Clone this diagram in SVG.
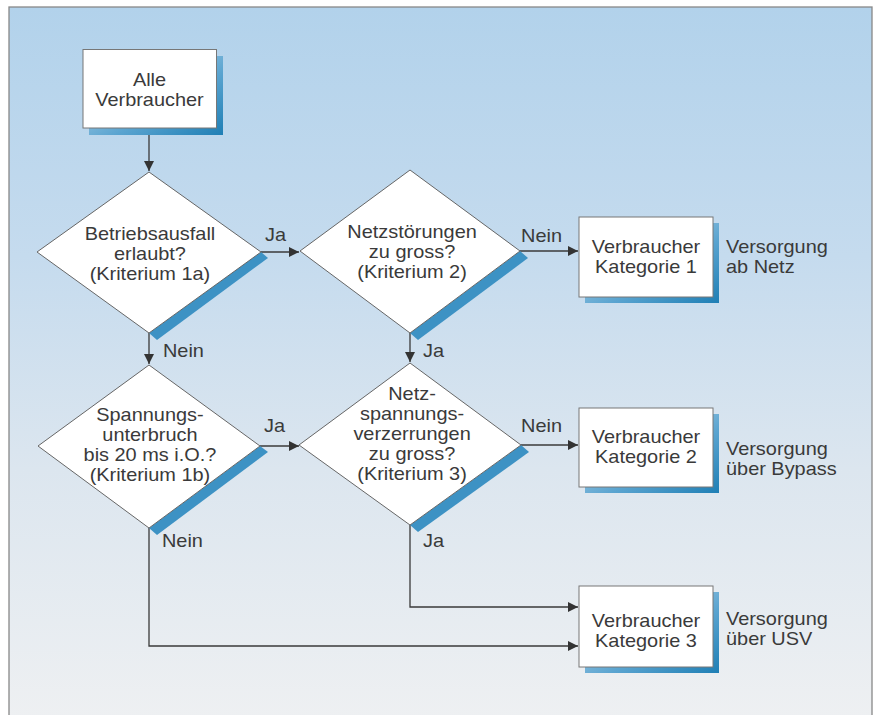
<svg xmlns="http://www.w3.org/2000/svg" width="874" height="715" viewBox="0 0 874 715">
<defs>
<linearGradient id="bg" x1="0" y1="0" x2="0" y2="1">
<stop offset="0" stop-color="#b2d2eb"/>
<stop offset="0.35" stop-color="#c5dbee"/>
<stop offset="0.65" stop-color="#dce6ef"/>
<stop offset="1" stop-color="#eef0f2"/>
</linearGradient>
<linearGradient id="sh" x1="0" y1="0" x2="1" y2="1">
<stop offset="0" stop-color="#cfe3f1"/>
<stop offset="0.6" stop-color="#5aa4d0"/>
<stop offset="1" stop-color="#1f7fb5"/>
</linearGradient>
<marker id="ah" viewBox="0 0 10 10" refX="10" refY="5" markerWidth="10" markerHeight="10" markerUnits="userSpaceOnUse" orient="auto">
<path d="M0,0 L10,5 L0,10 Z" fill="#333"/>
</marker>
<style>
text{font-family:"Liberation Sans",Arial,sans-serif;font-size:17.8px;fill:#3a3a3a}
.c{text-anchor:middle}
.box{fill:#fff;stroke:#777;stroke-width:1}
.dia{fill:#fff;stroke:#666;stroke-width:1}
.band{fill:#3d92c4}
.shadow{fill:url(#sh)}
.ln{fill:none;stroke:#3a3a3a;stroke-width:1.3}
</style>
</defs>
<rect x="0" y="0" width="874" height="715" fill="#ffffff"/>
<rect x="9" y="7" width="863" height="712" fill="url(#bg)" stroke="#888" stroke-width="1.3"/>

<g id="connectors">
<path class="ln" d="M149,128 V171" marker-end="url(#ah)"/>
<path class="ln" d="M261,252 H299" marker-end="url(#ah)"/>
<path class="ln" d="M520,251 H578" marker-end="url(#ah)"/>
<path class="ln" d="M149,333 V364" marker-end="url(#ah)"/>
<path class="ln" d="M410,333 V362" marker-end="url(#ah)"/>
<path class="ln" d="M260,446 H299" marker-end="url(#ah)"/>
<path class="ln" d="M521,445 H578" marker-end="url(#ah)"/>
<path class="ln" d="M410,525 V607 H578" marker-end="url(#ah)"/>
<path class="ln" d="M149,528 V646 H578" marker-end="url(#ah)"/>
<g transform="scale(1.12,1)">
<text x="236.6" y="241">Ja</text>
<text x="465.2" y="242">Nein</text>
<text x="145.5" y="357">Nein</text>
<text x="377.7" y="357">Ja</text>
<text x="235.7" y="432">Ja</text>
<text x="465.2" y="432">Nein</text>
<text x="144.6" y="547">Nein</text>
<text x="377.7" y="547">Ja</text>
</g>
</g>

<g id="start">
<rect class="shadow" x="89" y="56" width="134" height="79"/>
<rect class="box" x="83" y="49.5" width="133.5" height="78.5"/>
<g transform="scale(1.12,1)">
<text class="c" x="133.5" y="86">Alle</text>
<text class="c" x="133.5" y="106">Verbraucher</text>
</g>
</g>

<g id="d1">
<polygon class="band" points="261,252 268,258 157,340 149,333"/>
<polygon class="dia" points="149,172 261,252 149,333 37,252"/>
<g transform="scale(1.12,1)">
<text class="c" x="133.9" y="240">Betriebsausfall</text>
<text class="c" x="133.9" y="260">erlaubt?</text>
<text class="c" x="133.9" y="280">(Kriterium 1a)</text>
</g>
</g>

<g id="d2">
<polygon class="band" points="520,251 528,258 418,340 410,333"/>
<polygon class="dia" points="410,170 520,251 410,333 300,251"/>
<g transform="scale(1.12,1)">
<text class="c" x="367.9" y="238">Netzstörungen</text>
<text class="c" x="367.9" y="258">zu gross?</text>
<text class="c" x="367.9" y="278">(Kriterium 2)</text>
</g>
</g>

<g id="d3">
<polygon class="band" points="260,446 268,452 157,535 149,528"/>
<polygon class="dia" points="149,365 260,446 149,528 38,446"/>
<g transform="scale(1.12,1)">
<text class="c" x="133.9" y="421">Spannungs-</text>
<text class="c" x="133.9" y="441">unterbruch</text>
<text class="c" x="133.9" y="461">bis 20 ms i.O.?</text>
<text class="c" x="133.9" y="481">(Kriterium 1b)</text>
</g>
</g>

<g id="d4">
<polygon class="band" points="521,445 529,452 418,532 410,525"/>
<polygon class="dia" points="410,363 521,445 410,525 299,445"/>
<g transform="scale(1.12,1)">
<text class="c" x="367.9" y="400">Netz-</text>
<text class="c" x="367.9" y="420">spannungs-</text>
<text class="c" x="367.9" y="440">verzerrungen</text>
<text class="c" x="367.9" y="460">zu gross?</text>
<text class="c" x="367.9" y="480">(Kriterium 3)</text>
</g>
</g>

<g id="k1">
<rect class="shadow" x="585" y="223" width="134" height="80"/>
<rect class="box" x="579" y="217" width="134" height="80"/>
<g transform="scale(1.12,1)">
<text class="c" x="576.8" y="253.5">Verbraucher</text>
<text class="c" x="576.8" y="273.5">Kategorie 1</text>
<text x="648.2" y="253.5">Versorgung</text>
<text x="648.2" y="273.5">ab Netz</text>
</g>
</g>

<g id="k2">
<rect class="shadow" x="585" y="414" width="134" height="79"/>
<rect class="box" x="579" y="408" width="134" height="79"/>
<g transform="scale(1.12,1)">
<text class="c" x="576.8" y="443.5">Verbraucher</text>
<text class="c" x="576.8" y="463.5">Kategorie 2</text>
<text x="648.2" y="455.5">Versorgung</text>
<text x="648.2" y="475.5">über Bypass</text>
</g>
</g>

<g id="k3">
<rect class="shadow" x="585" y="592" width="134" height="81"/>
<rect class="box" x="579" y="586" width="134" height="81"/>
<g transform="scale(1.12,1)">
<text class="c" x="576.8" y="627.5">Verbraucher</text>
<text class="c" x="576.8" y="647.5">Kategorie 3</text>
<text x="648.2" y="625.5">Versorgung</text>
<text x="648.2" y="645.5">über USV</text>
</g>
</g>
</svg>
